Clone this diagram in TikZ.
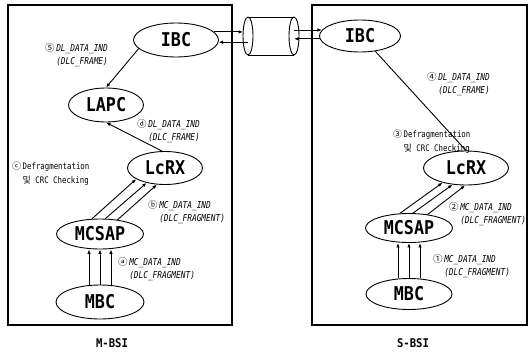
\documentclass[tikz,border=0pt]{standalone}
\usepackage{fontspec}
\setmainfont{DejaVu Sans}
\newfontfamily\nodefont[FakeStretch=0.88]{DejaVu Sans Mono}
\newfontfamily\msgfont[FakeStretch=0.82]{DejaVu Sans Mono}
\newfontfamily\kr{Noto Sans CJK KR}
\usetikzlibrary{shapes.geometric,arrows.meta}
\tikzset{
  blk/.style={draw,ellipse,line width=0.9pt,inner sep=0pt,minimum width=85pt,minimum height=34pt,
    font=\nodefont\bfseries\fontsize{19}{20}\selectfont},
  msg/.style={anchor=west,inner sep=0pt,font=\msgfont\itshape\fontsize{9.5}{13}\selectfont},
  note/.style={anchor=west,inner sep=0pt,font=\msgfont\fontsize{9}{14}\selectfont},
  sig/.style={-{Latex[length=4.5pt,width=3.5pt]},line width=0.9pt},
  wall/.style={line width=1.1pt},
  title/.style={font=\nodefont\bfseries\fontsize{12}{14}\selectfont}
}
\begin{document}
\begin{tikzpicture}[x=1pt,y=-1pt]
  \useasboundingbox (0,0) rectangle (530,356);
  \draw[wall] (8,5) rectangle (232,325);
  \draw[wall] (312,5) rectangle (527,325);

  \node[blk] (ibcM) at (176,40) {IBC};
  \node[blk,minimum width=75pt] (lapc) at (106,105) {LAPC};
  \node[blk,minimum width=75pt,minimum height=33pt] (lcrxM) at (165,168) {LcRX};
  \node[blk,minimum width=87pt,minimum height=30pt] (mcsapM) at (100,234) {MCSAP};
  \node[blk,minimum width=88pt] (mbcM) at (100,302) {MBC};

  \node[blk,minimum width=81pt,minimum height=32pt] (ibcS) at (360,36) {IBC};
  \node[blk] (lcrxS) at (466,168) {LcRX};
  \node[blk,minimum width=87pt,minimum height=29pt] (mcsapS) at (409,228) {MCSAP};
  \node[blk,minimum width=86pt,minimum height=31pt] (mbcS) at (409,294) {MBC};

  \coordinate (capL) at (243,36);
  \coordinate (cabL) at (248,36);
  \coordinate (cabR) at (294,36);
  \draw[line width=0.9pt] (248,17) -- (294,17) (248,55) -- (294,55);
  \draw[line width=0.9pt] (cabL) ellipse (5pt and 19pt);
  \draw[line width=0.9pt] (cabR) ellipse (5pt and 19pt);

  \draw[sig] (ibcM.12) -- (ibcM.12 -| capL);
  \draw[sig] (ibcM.-3 -| cabL) -- (ibcM.-3);
  \draw[sig] (ibcS.171 -| cabR) -- (ibcS.171);
  \draw[sig] (ibcS.184) -- (ibcS.184 -| cabR);

  \draw[sig] (ibcM.193) -- (lapc.north);
  \draw[sig] (lcrxM.100) -- (lapc.south);
  \foreach \a/\b in {118/201,71/219,39/244}
    \draw[sig] (mcsapM.\a) -- (lcrxM.\b);
  \foreach \dx in {-11,0,11}
    \draw[sig] ([xshift=\dx pt]mbcM.north) -- ([xshift=\dx pt]mcsapM.south);

  \draw[line width=0.9pt] (ibcS.315) -- (lcrxS.north);
  \foreach \a/\b in {122/212,75/231,36/267}
    \draw[sig] (mcsapS.\a) -- (lcrxS.\b);
  \foreach \dx in {-11,0,11}
    \draw[sig] ([xshift=\dx pt]mbcS.north) -- ([xshift=\dx pt]mcsapS.south);

  \node[msg] (msgM5) at (45,55.5) {\begin{tabular}{@{}l@{\,}l@{}}{\kr ⑤} & DL\_DATA\_IND\\ & (DLC\_FRAME)\end{tabular}};
  \node[msg] (msgMd) at (137,131.5) {\begin{tabular}{@{}l@{\,}l@{}}{\kr ⓓ} & DL\_DATA\_IND\\ & (DLC\_FRAME)\end{tabular}};
  \node[note] (noteMc) at (12,174) {\begin{tabular}{@{}l@{\,}l@{}}{\kr ⓒ} & Defragmentation\\ & {\kr 및} CRC Checking\end{tabular}};
  \node[msg] (msgMb) at (148,212.5) {\begin{tabular}{@{}l@{\,}l@{}}{\kr ⓑ} & MC\_DATA\_IND\\ & (DLC\_FRAGMENT)\end{tabular}};
  \node[msg] (msgMa) at (118,269) {\begin{tabular}{@{}l@{\,}l@{}}{\kr ⓐ} & MC\_DATA\_IND\\ & (DLC\_FRAGMENT)\end{tabular}};

  \node[msg] (msgS4) at (427,84.5) {\begin{tabular}{@{}l@{\,}l@{}}{\kr ④} & DL\_DATA\_IND\\ & (DLC\_FRAME)\end{tabular}};
  \node[note] (noteS3) at (393,142) {\begin{tabular}{@{}l@{\,}l@{}}{\kr ③} & Defragmentation\\ & {\kr 및} CRC Checking\end{tabular}};
  \node[msg] (msgS2) at (449,214.5) {\begin{tabular}{@{}l@{\,}l@{}}{\kr ②} & MC\_DATA\_IND\\ & (DLC\_FRAGMENT)\end{tabular}};
  \node[msg] (msgS1) at (433,266) {\begin{tabular}{@{}l@{\,}l@{}}{\kr ①} & MC\_DATA\_IND\\ & (DLC\_FRAGMENT)\end{tabular}};

  \node[title] (titM) at (112,343) {M-BSI};
  \node[title] (titS) at (413,343) {S-BSI};
\end{tikzpicture}
\end{document}
